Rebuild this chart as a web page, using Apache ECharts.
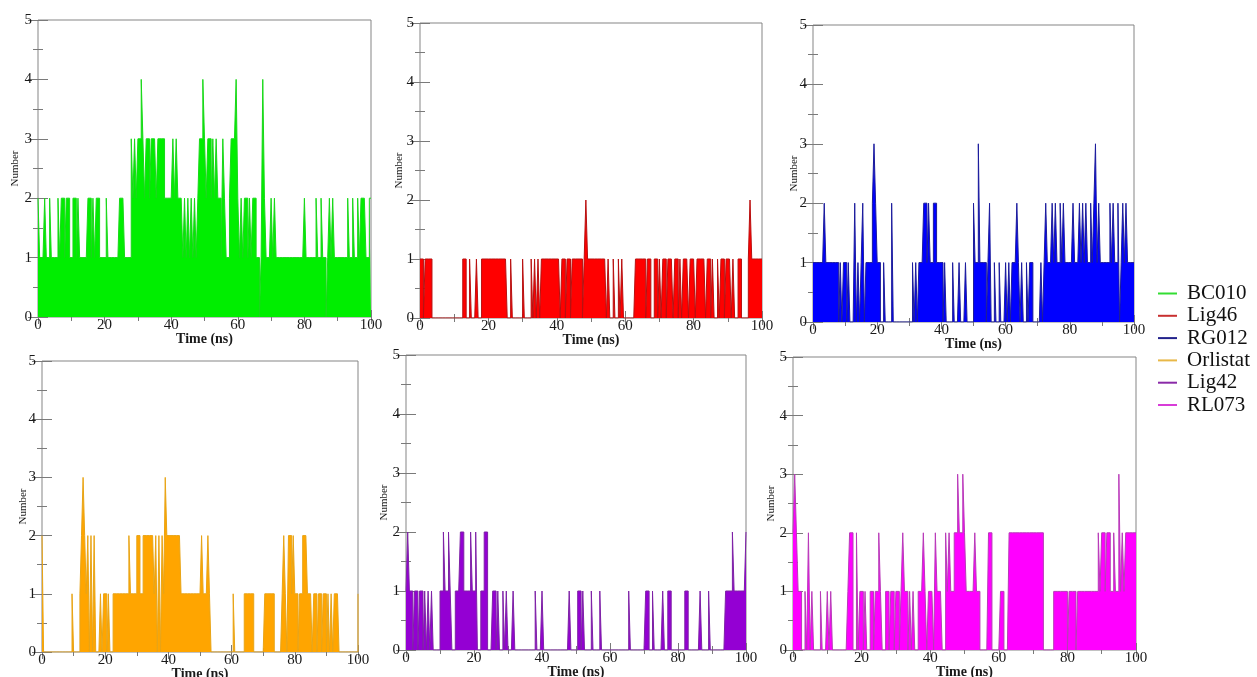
<!DOCTYPE html>
<html><head><meta charset="utf-8">
<script src="https://cdn.jsdelivr.net/npm/echarts@6/dist/echarts.min.js"></script>
<style>html,body{margin:0;padding:0;background:#fff}#c{width:1257px;height:677px}</style>
</head><body><div id="c"></div>
<script>
// ---- data: hydrogen-bond count sampled every 0.5 ns from 0 to 100 ns ----
const TIME_STEP_NS = 0.5;
const X_TICKS = [0, 20, 40, 60, 80, 100];
const Y_TICKS = [0, 1, 2, 3, 4, 5];
const NAMES = ['BC010', 'Lig46', 'RG012', 'Orlistat', 'Lig42', 'RL073'];

const BC010 = [
 2,1,1,1,2,1,1,2,1,1, 1,1,2,1,2,2,1,2,2,1,
 1,2,2,1,2,1,1,1,1,1, 2,2,1,2,1,2,2,1,1,1,
 1,2,1,1,1,1,1,1,1,2, 2,2,1,1,1,1,3,2,3,2,
 3,3,4,3,2,3,3,2,3,3, 3,2,3,3,3,3,2,2,2,2,
 2,3,2,3,2,2,2,1,2,1, 2,1,2,1,2,1,2,3,3,4,
 3,2,3,3,2,3,2,3,2,2, 1,3,2,1,1,2,3,3,3,4,
 2,1,2,1,2,2,1,2,1,2, 2,1,1,0,1,4,2,1,1,1,
 2,1,2,1,1,1,1,1,1,1, 1,1,1,1,1,1,1,1,1,1,
 2,1,1,1,1,1,1,2,1,1, 2,1,1,0,1,2,1,2,1,1,
 1,1,1,1,1,1,2,1,1,2, 1,1,2,1,2,2,2,1,1,2,
 2];
const LIG46 = [
 1,1,0,1,1,1,1,0,0,0, 0,0,0,0,0,0,0,0,0,0,
 0,0,0,0,0,1,1,0,0,1, 0,0,0,1,0,0,1,1,1,1,
 1,1,1,1,1,1,1,1,1,1, 1,0,0,1,0,0,0,0,0,0,
 1,0,0,0,0,1,0,1,0,1, 0,1,1,1,1,1,1,1,1,1,
 1,1,0,1,1,0,1,1,0,1, 1,1,1,1,1,0,1,2,1,1,
 1,1,1,1,1,1,1,1,1,0, 1,0,0,1,0,0,1,0,1,0,
 0,0,0,0,0,0,1,1,1,1, 1,1,0,1,1,0,0,1,1,0,
 1,0,1,1,0,1,1,1,0,1, 1,0,1,0,1,1,1,0,1,1,
 1,0,1,1,1,1,1,0,1,1, 0,1,0,0,1,0,1,1,0,1,
 1,1,0,1,0,0,1,1,0,0, 0,0,1,2,1,1,1,1,1,1,
 1];
const RG012 = [
 1,1,1,1,1,1,1,2,1,1, 1,1,1,1,1,1,0,1,0,1,
 1,0,1,0,0,0,2,0,1,0, 1,2,0,1,1,1,1,2,3,2,
 1,1,0,0,1,0,0,0,0,2, 0,0,0,0,0,0,0,0,0,0,
 0,0,1,0,1,0,1,1,1,2, 2,1,2,1,1,2,2,1,1,1,
 1,0,1,0,0,0,0,1,0,0, 0,1,0,0,0,1,0,0,0,0,
 2,1,1,3,1,1,1,1,0,1, 2,0,0,1,0,0,1,0,0,0,
 1,0,1,0,1,1,1,2,1,0, 1,0,0,1,0,1,1,0,0,0,
 0,0,1,0,1,2,1,1,1,2, 1,2,1,1,2,1,2,1,1,1,
 1,1,2,1,1,1,2,1,2,1, 2,1,1,2,1,2,3,1,2,1,
 1,1,1,1,1,2,1,2,1,1, 2,0,1,2,1,2,1,1,1,1,
 1];
const ORLISTAT = [
 2,0,0,0,0,0,0,0,0,0, 0,0,0,0,0,0,0,0,0,1,
 0,0,0,0,1,2,3,2,1,2, 0,2,0,2,0,0,0,1,0,1,
 1,0,1,0,0,1,1,1,1,1, 1,1,1,1,1,2,1,1,1,1,
 2,2,1,1,2,2,2,2,2,2, 2,1,2,0,2,0,2,1,3,2,
 2,2,2,2,2,2,2,2,1,1, 1,1,1,1,1,1,1,1,1,1,
 1,2,1,1,1,2,1,0,0,0, 0,0,0,0,0,0,0,0,0,0,
 0,1,0,0,0,0,0,0,1,1, 1,1,1,1,0,0,0,0,0,0,
 0,1,1,1,1,1,1,0,0,0, 0,0,1,2,1,0,2,2,1,2,
 1,1,0,1,1,2,2,2,1,1, 1,0,1,1,0,1,1,0,1,1,
 0,1,0,1,0,1,1,1,0,0, 0,0,0,0,0,0,0,0,0,0,
 1];
const LIG42 = [
 1,2,1,1,0,1,1,0,1,1, 0,1,0,1,0,1,0,0,0,0,
 1,1,2,1,1,2,1,0,0,1, 1,1,2,2,1,1,1,1,2,1,
 1,2,0,0,1,1,2,2,0,0, 0,1,1,0,1,0,0,1,0,1,
 0,0,0,1,0,0,0,0,0,0, 0,0,0,0,0,0,1,0,0,0,
 1,0,0,0,0,0,0,0,0,0, 0,0,0,0,0,0,1,0,0,0,
 0,1,1,0,1,0,0,0,0,1, 0,0,0,0,1,0,0,0,0,0,
 0,0,0,0,0,0,0,0,0,0, 0,1,0,0,0,0,0,0,0,0,
 0,1,1,0,0,1,0,0,0,0, 0,1,0,0,1,1,0,0,0,0,
 0,0,0,0,1,1,0,0,0,0, 0,0,0,1,0,0,0,0,1,0,
 0,0,0,0,0,0,0,0,1,1, 1,1,2,1,1,1,1,1,1,1,
 2];
const RL073 = [
 2,3,2,1,1,0,0,1,0,2, 0,1,0,0,0,0,1,0,0,0,
 1,0,1,0,0,0,0,0,0,0, 0,0,1,2,2,0,0,2,0,1,
 1,0,1,0,0,1,1,0,1,1, 2,1,0,0,1,1,0,1,1,0,
 1,1,0,1,2,1,1,0,1,0, 1,0,0,1,1,1,2,1,0,1,
 1,1,0,2,1,1,1,0,0,2, 1,2,1,1,2,2,3,2,2,3,
 2,1,1,1,1,1,2,1,1,0, 0,0,0,0,2,2,0,0,0,0,
 0,1,1,0,0,0,2,2,2,2, 2,2,2,2,2,2,2,2,2,2,
 2,2,2,2,2,2,0,0,0,0, 0,0,1,1,1,1,1,1,1,1,
 0,1,1,1,1,0,1,1,1,1, 1,1,1,1,1,1,1,1,2,1,
 2,2,1,2,2,1,1,2,1,1, 3,1,2,1,2,2,2,2,2,2,
 2];
const SERIES_VALUES = [BC010, LIG46, RG012, ORLISTAT, LIG42, RL073];

// ---- styling / layout ----
const FILL = ['#00ee00', '#ff0000', '#0000ff', '#ffa500', '#9400d3', '#ff00ff'];
const LINE = ['#18d818', '#b81010', '#1c1c9c', '#e8a416', '#7e22a6', '#b83ab8'];
const LEG  = ['#33dd33', '#c83030', '#22228c', '#e8b848', '#8a2aa8', '#d83cd8'];
const GRIDS = [
  {left: 38,  top: 20,  width: 333, height: 297},
  {left: 420, top: 23,  width: 342, height: 295},
  {left: 813, top: 25,  width: 321, height: 297},
  {left: 42,  top: 361, width: 316, height: 291},
  {left: 406, top: 355, width: 340, height: 295},
  {left: 793, top: 357, width: 343, height: 293}
];
const NAME_GAP_Y = [17, 15, 13, 13, 16, 16];

const FONT = 'Liberation Serif';
const tickStyle = {color: '#7a7a7a', width: 1};
const labelStyle = {fontFamily: FONT, fontSize: 15, color: '#1a1a1a'};

const grid = [], xAxis = [], yAxis = [], series = [];
GRIDS.forEach((g, k) => {
  grid.push(Object.assign({show: true, borderColor: '#858585', borderWidth: 1,
    backgroundColor: 'transparent', containLabel: false, outerBoundsMode: 'none'}, g));
  const xBase = {
    type: 'value', gridIndex: k, min: X_TICKS[0], max: X_TICKS[X_TICKS.length - 1],
    interval: X_TICKS[1] - X_TICKS[0],
    axisLine: {show: false}, splitLine: {show: false},
    axisTick: {inside: true, length: 7, lineStyle: tickStyle},
    minorTick: {show: true, splitNumber: 2, length: 4, lineStyle: tickStyle},
    minorSplitLine: {show: false}
  };
  xAxis.push(Object.assign({}, xBase, {
    position: 'bottom',
    axisLabel: Object.assign({margin: 1, showMinLabel: true, showMaxLabel: true}, labelStyle),
    name: 'Time (ns)', nameLocation: 'middle', nameGap: 15, nameMoveOverlap: false,
    nameTextStyle: {fontFamily: FONT, fontSize: 14, fontWeight: 'bold', color: '#1a1a1a'}
  }));
  xAxis.push(Object.assign({}, xBase, {position: 'top', axisLabel: {show: false}}));
  const yBase = {
    type: 'value', gridIndex: k, min: Y_TICKS[0], max: Y_TICKS[Y_TICKS.length - 1],
    interval: Y_TICKS[1] - Y_TICKS[0],
    axisLine: {show: false}, splitLine: {show: false},
    axisTick: {inside: true, length: 10, lineStyle: tickStyle},
    minorTick: {show: true, splitNumber: 2, length: 5, lineStyle: tickStyle},
    minorSplitLine: {show: false}
  };
  yAxis.push(Object.assign({}, yBase, {
    position: 'left',
    axisLabel: Object.assign({margin: 6, showMinLabel: true, showMaxLabel: true}, labelStyle),
    name: 'Number', nameLocation: 'middle', nameRotate: 90, nameGap: NAME_GAP_Y[k],
    nameMoveOverlap: false,
    nameTextStyle: {fontFamily: FONT, fontSize: 11, color: '#1a1a1a'}
  }));
  yAxis.push(Object.assign({}, yBase, {position: 'right', axisLabel: {show: false}}));

  const vals = SERIES_VALUES[k];
  series.push({
    name: NAMES[k], type: 'line', step: 'end', symbol: 'none',
    xAxisIndex: 2 * k, yAxisIndex: 2 * k,
    data: vals.map((v, i) => [i * TIME_STEP_NS, v]),
    itemStyle: {color: LEG[k]},
    lineStyle: {color: LINE[k], width: 1},
    areaStyle: {color: FILL[k], opacity: 1},
    emphasis: {disabled: true},
    animation: false
  });
});

const chart = echarts.init(document.getElementById('c'), null, {renderer: 'canvas'});
chart.setOption({
  animation: false,
  backgroundColor: '#ffffff',
  grid, xAxis, yAxis, series,
  legend: {
    orient: 'vertical', left: 1153, top: 278, icon: 'rect',
    itemWidth: 19, itemHeight: 2, itemGap: 1.3, selectedMode: false,
    data: NAMES,
    textStyle: {fontFamily: FONT, fontSize: 21, color: '#111', padding: [0, 0, 0, 5]}
  }
});
</script>
</body></html>
